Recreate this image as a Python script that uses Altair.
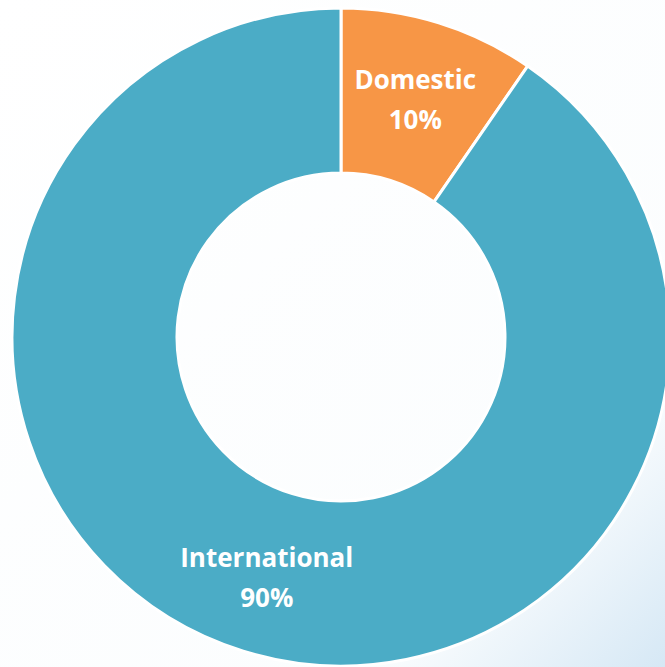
import altair as alt
import pandas as pd

categories = ["Domestic", "International"]
values = [9.6, 90.4]
labels = ["10%", "90%"]
colors = ["#F79646", "#4BACC6"]

df = pd.DataFrame({
    "category": categories,
    "value": values,
    "order": list(range(len(categories))),
    "pct": labels,
})

W, H = 665, 667
CX, CY = 341, 337

bg = alt.Chart(pd.DataFrame({"a": [0]})).mark_rect(
    color=alt.Gradient(
        gradient="linear", x1=0, y1=0, x2=1, y2=1,
        stops=[alt.GradientStop(offset=0, color="#ffffff"),
               alt.GradientStop(offset=0.78, color="#fbfdfe"),
               alt.GradientStop(offset=1, color="#d6e8f5")],
    )
).encode(x=alt.value(0), x2=alt.value(W), y=alt.value(0), y2=alt.value(H))

base = alt.Chart(df).encode(
    theta=alt.Theta("value:Q", stack=True),
    order=alt.Order("order:Q"),
    x=alt.value(CX),
    y=alt.value(CY),
)

arcs = base.mark_arc(outerRadius=329, innerRadius=164, stroke="white", strokeWidth=3).encode(
    color=alt.Color("category:N", scale=alt.Scale(domain=categories, range=colors), legend=None)
)

txt_kw = dict(radius=250, font="Open Sans", fontSize=26, fontWeight="bold", color="white",
              align="center", baseline="middle")
t1 = base.mark_text(dy=-17, **txt_kw).encode(text="category:N")
t2 = base.mark_text(dy=23, **txt_kw).encode(text="pct:N")

chart = alt.layer(bg, arcs, t1, t2).properties(
    width=W, height=H, padding=0, autosize=alt.AutoSizeParams(type="none")
).configure_view(stroke=None)

chart.save("out.html", embed_options={"renderer": "svg", "actions": False})
